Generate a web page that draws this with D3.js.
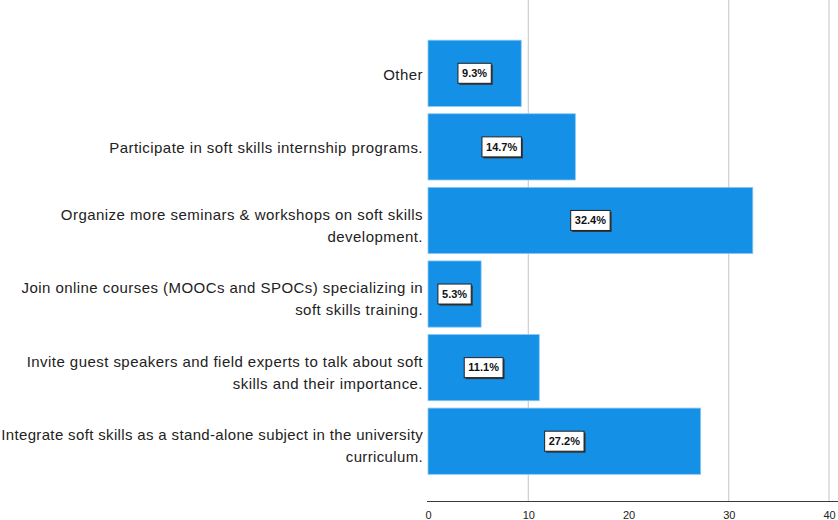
<!DOCTYPE html>
<html>
<head>
<meta charset="utf-8">
<script src="https://cdn.jsdelivr.net/npm/d3@7"></script>
<style>
  html, body { margin: 0; padding: 0; background: #fff; }
  svg { display: block; }
</style>
</head>
<body>
<svg id="chart" width="838" height="520"></svg>
<script>
// Suggested actions, listed top to bottom (line breaks mark label wrapping)
const categories = [
  "Other",
  "Participate in soft skills internship programs.",
  "Organize more seminars & workshops on soft skills\ndevelopment.",
  "Join online courses (MOOCs and SPOCs) specializing in\nsoft skills training.",
  "Invite guest speakers and field experts to talk about soft\nskills and their importance.",
  "Integrate soft skills as a stand-alone subject in the university\ncurriculum."
];
// Percentage of respondents choosing each action
const percents = [9.3, 14.7, 32.4, 5.3, 11.1, 27.2];
const xTicks = [0, 10, 20, 30, 40];
const gridValues = [10, 30, 40];

const svg = d3.select("#chart");
const left = 428, right = 829, axisY = 501;

const x = d3.scaleLinear().domain([0, 40]).range([left, right]);
const y = d3.scaleBand()
  .domain(categories)
  .range([36.5, 478])
  .paddingInner(0.1)
  .paddingOuter(0.05);

// vertical gridlines
svg.append("g")
  .selectAll("line")
  .data(gridValues)
  .join("line")
  .attr("x1", d => x(d)).attr("x2", d => x(d))
  .attr("y1", 0).attr("y2", axisY)
  .attr("stroke", "#c4c4c4")
  .attr("stroke-width", 1);

// bars
svg.append("g")
  .selectAll("rect")
  .data(categories)
  .join("rect")
  .attr("x", x(0))
  .attr("y", d => y(d))
  .attr("width", (d, i) => x(percents[i]) - x(0))
  .attr("height", y.bandwidth())
  .attr("fill", "#1490e6")
  .attr("stroke", "#8ec8f3")
  .attr("stroke-width", 0.8);

// x axis
const xAxis = d3.axisBottom(x).tickValues(xTicks).tickSize(0).tickPadding(0);
const gx = svg.append("g").attr("transform", `translate(0,${axisY})`).call(xAxis);
gx.select(".domain").attr("d", `M${left - 1},0.5H838`).attr("stroke", "#3a3a3a").attr("stroke-width", 1.2);
gx.selectAll("text")
  .attr("y", 18)
  .attr("dy", 0)
  .attr("font-family", "Liberation Sans, Arial, sans-serif")
  .attr("font-size", 11)
  .attr("fill", "#222");

// category labels, right aligned against the bars
const labels = svg.append("g")
  .attr("font-family", "Liberation Sans, Arial, sans-serif")
  .attr("font-size", 15)
  .attr("fill", "#222")
  .attr("text-anchor", "end");

categories.forEach(c => {
  const lines = c.split("\n");
  const cy = y(c) + y.bandwidth() / 2;
  const t = labels.append("text").attr("x", 423).attr("letter-spacing", 0.45);
  if (lines.length === 1) {
    t.attr("y", cy + 1).attr("dy", "0.35em").text(lines[0]);
  } else {
    lines.forEach((ln, j) => {
      t.append("tspan")
        .attr("x", 423)
        .attr("y", cy - 6 + j * 22)
        .attr("dy", "0.35em")
        .text(ln);
    });
  }
  // tighten the spacing of a label that would run past the left edge
  let ls = 0.45;
  while (t.node().getBBox().x < 1 && ls > -0.5) {
    ls -= 0.05;
    t.attr("letter-spacing", ls);
  }
});

// value boxes at the middle of each bar
const fmt = v => d3.format(".1f")(v) + "%";
const boxes = svg.append("g");
categories.forEach((c, i) => {
  const cx = (x(0) + x(percents[i])) / 2;
  const cy = y(c) + y.bandwidth() / 2;
  const g = boxes.append("g");
  const txt = g.append("text")
    .attr("x", cx).attr("y", cy).attr("dy", "0.35em")
    .attr("text-anchor", "middle")
    .attr("font-family", "Liberation Sans, Arial, sans-serif")
    .attr("font-size", 11)
    .attr("font-weight", "bold")
    .attr("fill", "#111")
    .text(fmt(percents[i]));
  const bb = txt.node().getBBox();
  const w = bb.width + 8, h = 20;
  g.insert("rect", "text")
    .attr("x", cx - w / 2 + 1.5).attr("y", cy - h / 2 + 1.5)
    .attr("width", w).attr("height", h)
    .attr("fill", "#333");
  g.insert("rect", "text")
    .attr("x", cx - w / 2).attr("y", cy - h / 2)
    .attr("width", w).attr("height", h)
    .attr("fill", "#fff")
    .attr("stroke", "#222")
    .attr("stroke-width", 1);
});
</script>
</body>
</html>
